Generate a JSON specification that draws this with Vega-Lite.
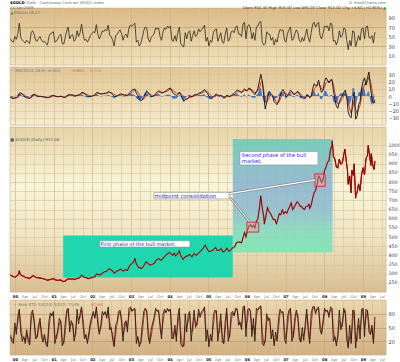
{
"$schema":"https://vega.github.io/schema/vega-lite/v6.json",
"padding":{"left":7,"top":1,"right":0,"bottom":0},
"background":"white",
"spacing":0,
"config":{"font":"DejaVu Sans","view":{"stroke":"#c4ad84","strokeWidth":0.6},"axis":{"titleFontSize":0,"labelOverlap":false}},
"datasets":{
"osc":[
{"d":"1999-11-19","r":45,"k":30,"s":35,"m":-2,"g":-1,"h":-1},
{"d":"1999-12-03","r":40,"k":20,"s":25,"m":-3,"g":-2,"h":-1},
{"d":"1999-12-17","r":38,"k":15,"s":20,"m":-3.5,"g":-2.8,"h":-0.7},
{"d":"1999-12-31","r":50,"k":60,"s":45,"m":-2.5,"g":-2.9,"h":0.4},
{"d":"2000-01-14","r":44,"k":35,"s":45,"m":-2.2,"g":-2.6,"h":0.4},
{"d":"2000-01-28","r":55,"k":75,"s":60,"m":-1,"g":-2,"h":1},
{"d":"2000-02-11","r":78,"k":90,"s":85,"m":4,"g":0,"h":4},
{"d":"2000-02-25","r":48,"k":40,"s":55,"m":4.5,"g":2.5,"h":2},
{"d":"2000-03-10","r":42,"k":20,"s":30,"m":2.5,"g":3,"h":-0.5},
{"d":"2000-03-24","r":40,"k":30,"s":28,"m":0.5,"g":2,"h":-1.5},
{"d":"2000-04-07","r":36,"k":15,"s":22,"m":-1.5,"g":0.5,"h":-2},
{"d":"2000-04-21","r":42,"k":45,"s":35,"m":-2.5,"g":-1,"h":-1.5},
{"d":"2000-05-05","r":38,"k":20,"s":28,"m":-3,"g":-2,"h":-1},
{"d":"2000-05-19","r":35,"k":12,"s":18,"m":-3.2,"g":-2.8,"h":-0.4},
{"d":"2000-06-02","r":58,"k":80,"s":65,"m":-1.5,"g":-2.5,"h":1},
{"d":"2000-06-16","r":62,"k":88,"s":82,"m":1.5,"g":-0.5,"h":2},
{"d":"2000-06-30","r":55,"k":60,"s":70,"m":2.5,"g":1,"h":1.5},
{"d":"2000-07-14","r":42,"k":25,"s":35,"m":1.2,"g":1.5,"h":-0.3},
{"d":"2000-07-28","r":40,"k":30,"s":28,"m":-0.2,"g":0.8,"h":-1},
{"d":"2000-08-11","r":46,"k":55,"s":45,"m":-0.8,"g":0,"h":-0.8},
{"d":"2000-08-25","r":50,"k":70,"s":62,"m":-0.5,"g":-0.4,"h":-0.1},
{"d":"2000-09-08","r":42,"k":30,"s":40,"m":-0.8,"g":-0.6,"h":-0.2},
{"d":"2000-09-22","r":38,"k":18,"s":25,"m":-1.2,"g":-0.9,"h":-0.3},
{"d":"2000-10-06","r":40,"k":35,"s":28,"m":-1.6,"g":-1.2,"h":-0.4},
{"d":"2000-10-20","r":35,"k":12,"s":20,"m":-2,"g":-1.6,"h":-0.4},
{"d":"2000-11-03","r":32,"k":8,"s":12,"m":-2.4,"g":-2,"h":-0.4},
{"d":"2000-11-17","r":50,"k":65,"s":45,"m":-1.8,"g":-2.1,"h":0.3},
{"d":"2000-12-01","r":56,"k":82,"s":75,"m":-0.8,"g":-1.6,"h":0.8},
{"d":"2000-12-15","r":58,"k":75,"s":80,"m":0.3,"g":-0.8,"h":1.1},
{"d":"2000-12-29","r":60,"k":85,"s":78,"m":0.9,"g":0,"h":0.9},
{"d":"2001-01-12","r":38,"k":15,"s":35,"m":0,"g":0.2,"h":-0.2},
{"d":"2001-01-26","r":40,"k":30,"s":25,"m":-0.8,"g":-0.3,"h":-0.5},
{"d":"2001-02-09","r":45,"k":45,"s":38,"m":-1.1,"g":-0.7,"h":-0.4},
{"d":"2001-02-23","r":52,"k":70,"s":58,"m":-0.7,"g":-0.8,"h":0.1},
{"d":"2001-03-09","r":55,"k":62,"s":65,"m":-0.3,"g":-0.6,"h":0.3},
{"d":"2001-03-23","r":35,"k":10,"s":25,"m":-1.2,"g":-0.8,"h":-0.4},
{"d":"2001-04-06","r":34,"k":18,"s":15,"m":-2,"g":-1.3,"h":-0.7},
{"d":"2001-04-20","r":48,"k":60,"s":40,"m":-1.7,"g":-1.6,"h":-0.1},
{"d":"2001-05-04","r":62,"k":88,"s":78,"m":-0.2,"g":-1,"h":0.8},
{"d":"2001-05-18","r":70,"k":92,"s":90,"m":2,"g":0.3,"h":1.7},
{"d":"2001-06-01","r":45,"k":40,"s":55,"m":1.8,"g":1.2,"h":0.6},
{"d":"2001-06-15","r":52,"k":65,"s":55,"m":1.5,"g":1.4,"h":0.1},
{"d":"2001-06-29","r":54,"k":55,"s":60,"m":1.2,"g":1.4,"h":-0.2},
{"d":"2001-07-13","r":40,"k":20,"s":30,"m":0.4,"g":1,"h":-0.6},
{"d":"2001-07-27","r":44,"k":40,"s":32,"m":-0.2,"g":0.5,"h":-0.7},
{"d":"2001-08-10","r":62,"k":90,"s":75,"m":1.2,"g":0.6,"h":0.6},
{"d":"2001-08-24","r":50,"k":58,"s":68,"m":1.5,"g":1,"h":0.5},
{"d":"2001-09-07","r":58,"k":80,"s":70,"m":2,"g":1.5,"h":0.5},
{"d":"2001-09-21","r":76,"k":95,"s":92,"m":5,"g":2.5,"h":2.5},
{"d":"2001-10-05","r":55,"k":55,"s":70,"m":5,"g":3.8,"h":1.2},
{"d":"2001-10-19","r":42,"k":25,"s":35,"m":3,"g":3.8,"h":-0.8},
{"d":"2001-11-02","r":44,"k":35,"s":28,"m":1.5,"g":3,"h":-1.5},
{"d":"2001-11-16","r":38,"k":15,"s":22,"m":0,"g":2,"h":-2},
{"d":"2001-11-30","r":45,"k":40,"s":30,"m":-0.8,"g":1,"h":-1.8},
{"d":"2001-12-14","r":52,"k":62,"s":52,"m":-0.8,"g":0.3,"h":-1.1},
{"d":"2001-12-28","r":56,"k":75,"s":68,"m":-0.2,"g":0,"h":-0.2},
{"d":"2002-01-11","r":60,"k":85,"s":80,"m":0.8,"g":0.2,"h":0.6},
{"d":"2002-01-25","r":58,"k":70,"s":75,"m":1.4,"g":0.7,"h":0.7},
{"d":"2002-02-08","r":75,"k":95,"s":90,"m":4.5,"g":2,"h":2.5},
{"d":"2002-02-22","r":55,"k":55,"s":70,"m":5,"g":3.3,"h":1.7},
{"d":"2002-03-08","r":45,"k":35,"s":40,"m":3.5,"g":3.6,"h":-0.1},
{"d":"2002-03-22","r":52,"k":55,"s":48,"m":2.6,"g":3.3,"h":-0.7},
{"d":"2002-04-05","r":62,"k":85,"s":72,"m":3,"g":3.1,"h":-0.1},
{"d":"2002-04-19","r":60,"k":78,"s":80,"m":3.4,"g":3.2,"h":0.2},
{"d":"2002-05-03","r":65,"k":85,"s":82,"m":4,"g":3.4,"h":0.6},
{"d":"2002-05-17","r":62,"k":70,"s":75,"m":4.2,"g":3.7,"h":0.5},
{"d":"2002-05-31","r":74,"k":95,"s":88,"m":6,"g":4.3,"h":1.7},
{"d":"2002-06-14","r":52,"k":45,"s":62,"m":5.5,"g":4.8,"h":0.7},
{"d":"2002-06-28","r":50,"k":50,"s":45,"m":4,"g":4.8,"h":-0.8},
{"d":"2002-07-12","r":42,"k":25,"s":35,"m":2.2,"g":4,"h":-1.8},
{"d":"2002-07-26","r":30,"k":8,"s":12,"m":-0.8,"g":2.5,"h":-3.3},
{"d":"2002-08-09","r":52,"k":55,"s":35,"m":-0.5,"g":1.2,"h":-1.7},
{"d":"2002-08-23","r":54,"k":62,"s":58,"m":0,"g":0.6,"h":-0.6},
{"d":"2002-09-06","r":60,"k":85,"s":75,"m":1.5,"g":0.8,"h":0.7},
{"d":"2002-09-20","r":64,"k":88,"s":85,"m":2.6,"g":1.4,"h":1.2},
{"d":"2002-10-04","r":56,"k":60,"s":72,"m":3,"g":2,"h":1},
{"d":"2002-10-18","r":42,"k":20,"s":35,"m":1.4,"g":2,"h":-0.6},
{"d":"2002-11-01","r":52,"k":60,"s":45,"m":1,"g":1.6,"h":-0.6},
{"d":"2002-11-15","r":55,"k":65,"s":62,"m":1.2,"g":1.4,"h":-0.2},
{"d":"2002-11-29","r":48,"k":40,"s":50,"m":0.8,"g":1.2,"h":-0.4},
{"d":"2002-12-13","r":68,"k":92,"s":75,"m":2.8,"g":1.6,"h":1.2},
{"d":"2002-12-27","r":74,"k":95,"s":92,"m":6,"g":3.2,"h":2.8},
{"d":"2003-01-10","r":72,"k":85,"s":88,"m":8,"g":5,"h":3},
{"d":"2003-01-24","r":75,"k":90,"s":88,"m":9,"g":7,"h":2},
{"d":"2003-02-07","r":78,"k":92,"s":90,"m":9.5,"g":8.3,"h":1.2},
{"d":"2003-02-21","r":38,"k":15,"s":35,"m":4,"g":7.5,"h":-3.5},
{"d":"2003-03-07","r":42,"k":30,"s":25,"m":1,"g":5.5,"h":-4.5},
{"d":"2003-03-21","r":30,"k":8,"s":15,"m":-4,"g":2.5,"h":-6.5},
{"d":"2003-04-04","r":35,"k":20,"s":15,"m":-6.5,"g":-1,"h":-5.5},
{"d":"2003-04-18","r":48,"k":55,"s":38,"m":-5.5,"g":-3.5,"h":-2},
{"d":"2003-05-02","r":62,"k":85,"s":70,"m":-2,"g":-3.8,"h":1.8},
{"d":"2003-05-16","r":70,"k":92,"s":90,"m":3,"g":-2,"h":5},
{"d":"2003-05-30","r":68,"k":85,"s":88,"m":7,"g":1.5,"h":5.5},
{"d":"2003-06-13","r":45,"k":30,"s":50,"m":5,"g":3.5,"h":1.5},
{"d":"2003-06-27","r":38,"k":15,"s":20,"m":1.5,"g":3,"h":-1.5},
{"d":"2003-07-11","r":48,"k":45,"s":30,"m":-0.5,"g":1.5,"h":-2},
{"d":"2003-07-25","r":52,"k":60,"s":50,"m":-0.5,"g":0.5,"h":-1},
{"d":"2003-08-08","r":56,"k":72,"s":65,"m":0.5,"g":0.2,"h":0.3},
{"d":"2003-08-22","r":68,"k":92,"s":85,"m":3.5,"g":1.2,"h":2.3},
{"d":"2003-09-05","r":66,"k":85,"s":88,"m":5.5,"g":2.8,"h":2.7},
{"d":"2003-09-19","r":68,"k":88,"s":85,"m":7,"g":4.5,"h":2.5},
{"d":"2003-10-03","r":50,"k":50,"s":62,"m":6.5,"g":5.5,"h":1},
{"d":"2003-10-17","r":42,"k":25,"s":35,"m":4,"g":5.2,"h":-1.2},
{"d":"2003-10-31","r":60,"k":80,"s":60,"m":4.5,"g":4.8,"h":-0.3},
{"d":"2003-11-14","r":68,"k":90,"s":85,"m":6,"g":5.2,"h":0.8},
{"d":"2003-11-28","r":65,"k":82,"s":85,"m":7,"g":5.8,"h":1.2},
{"d":"2003-12-12","r":72,"k":92,"s":88,"m":9,"g":7,"h":2},
{"d":"2003-12-26","r":68,"k":85,"s":88,"m":10,"g":8.2,"h":1.8},
{"d":"2004-01-09","r":72,"k":90,"s":88,"m":11,"g":9.5,"h":1.5},
{"d":"2004-01-23","r":42,"k":25,"s":45,"m":7,"g":9,"h":-2},
{"d":"2004-02-06","r":40,"k":30,"s":25,"m":3.5,"g":7.5,"h":-4},
{"d":"2004-02-20","r":52,"k":55,"s":45,"m":2.5,"g":5.8,"h":-3.3},
{"d":"2004-03-05","r":40,"k":20,"s":30,"m":0.5,"g":4,"h":-3.5},
{"d":"2004-03-19","r":58,"k":75,"s":55,"m":2,"g":3,"h":-1},
{"d":"2004-04-02","r":70,"k":92,"s":82,"m":5.5,"g":3.5,"h":2},
{"d":"2004-04-16","r":35,"k":15,"s":40,"m":2,"g":3.5,"h":-1.5},
{"d":"2004-04-30","r":30,"k":8,"s":12,"m":-3,"g":1.8,"h":-4.8},
{"d":"2004-05-14","r":28,"k":10,"s":8,"m":-7.5,"g":-1,"h":-6.5},
{"d":"2004-05-28","r":58,"k":80,"s":50,"m":-5,"g":-3,"h":-2},
{"d":"2004-06-11","r":45,"k":40,"s":55,"m":-4.5,"g":-3.8,"h":-0.7},
{"d":"2004-06-25","r":58,"k":78,"s":62,"m":-2.5,"g":-3.5,"h":1},
{"d":"2004-07-09","r":62,"k":85,"s":80,"m":0,"g":-2.2,"h":2.2},
{"d":"2004-07-23","r":40,"k":20,"s":40,"m":-1,"g":-1.5,"h":0.5},
{"d":"2004-08-06","r":52,"k":55,"s":42,"m":-0.5,"g":-1,"h":0.5},
{"d":"2004-08-20","r":62,"k":88,"s":72,"m":1.8,"g":0,"h":1.8},
{"d":"2004-09-03","r":50,"k":50,"s":62,"m":2,"g":1,"h":1},
{"d":"2004-09-17","r":54,"k":62,"s":55,"m":2.2,"g":1.6,"h":0.6},
{"d":"2004-10-01","r":66,"k":90,"s":80,"m":3.8,"g":2.4,"h":1.4},
{"d":"2004-10-15","r":60,"k":72,"s":78,"m":4.5,"g":3.2,"h":1.3},
{"d":"2004-10-29","r":64,"k":85,"s":80,"m":5.5,"g":4,"h":1.5},
{"d":"2004-11-12","r":68,"k":88,"s":85,"m":7,"g":5,"h":2},
{"d":"2004-11-26","r":74,"k":95,"s":92,"m":9,"g":6.5,"h":2.5},
{"d":"2004-12-10","r":40,"k":20,"s":45,"m":6,"g":7,"h":-1},
{"d":"2004-12-24","r":48,"k":45,"s":35,"m":4,"g":6,"h":-2},
{"d":"2005-01-07","r":30,"k":8,"s":20,"m":-0.5,"g":3.8,"h":-4.3},
{"d":"2005-01-21","r":42,"k":35,"s":25,"m":-2.5,"g":1.5,"h":-4},
{"d":"2005-02-04","r":38,"k":20,"s":28,"m":-3.5,"g":-0.5,"h":-3},
{"d":"2005-02-18","r":58,"k":78,"s":55,"m":-1.5,"g":-1.2,"h":-0.3},
{"d":"2005-03-04","r":64,"k":88,"s":80,"m":1,"g":-0.8,"h":1.8},
{"d":"2005-03-18","r":66,"k":85,"s":88,"m":3,"g":0.5,"h":2.5},
{"d":"2005-04-01","r":40,"k":20,"s":40,"m":0.8,"g":1.2,"h":-0.4},
{"d":"2005-04-15","r":48,"k":50,"s":38,"m":0,"g":1,"h":-1},
{"d":"2005-04-29","r":58,"k":80,"s":65,"m":0.8,"g":0.8,"h":0},
{"d":"2005-05-13","r":38,"k":18,"s":35,"m":-1.2,"g":0.3,"h":-1.5},
{"d":"2005-05-27","r":36,"k":15,"s":15,"m":-2.8,"g":-0.8,"h":-2},
{"d":"2005-06-10","r":55,"k":65,"s":45,"m":-2.2,"g":-1.5,"h":-0.7},
{"d":"2005-06-24","r":68,"k":92,"s":82,"m":1,"g":-0.8,"h":1.8},
{"d":"2005-07-08","r":40,"k":20,"s":40,"m":0,"g":-0.3,"h":0.3},
{"d":"2005-07-22","r":44,"k":35,"s":28,"m":-1,"g":-0.4,"h":-0.6},
{"d":"2005-08-05","r":60,"k":82,"s":62,"m":0.8,"g":0,"h":0.8},
{"d":"2005-08-19","r":62,"k":85,"s":82,"m":2.5,"g":0.8,"h":1.7},
{"d":"2005-09-02","r":58,"k":75,"s":78,"m":3.5,"g":1.8,"h":1.7},
{"d":"2005-09-16","r":70,"k":92,"s":88,"m":6,"g":3.2,"h":2.8},
{"d":"2005-09-30","r":72,"k":90,"s":90,"m":8,"g":5,"h":3},
{"d":"2005-10-14","r":55,"k":55,"s":70,"m":7.5,"g":6.2,"h":1.3},
{"d":"2005-10-28","r":55,"k":62,"s":55,"m":6,"g":6.5,"h":-0.5},
{"d":"2005-11-11","r":50,"k":45,"s":52,"m":4.5,"g":6,"h":-1.5},
{"d":"2005-11-25","r":76,"k":95,"s":85,"m":7,"g":6,"h":1},
{"d":"2005-12-09","r":80,"k":97,"s":95,"m":10,"g":7.5,"h":2.5},
{"d":"2005-12-23","r":45,"k":30,"s":50,"m":7,"g":8,"h":-1},
{"d":"2006-01-06","r":72,"k":88,"s":65,"m":8,"g":7.8,"h":0.2},
{"d":"2006-01-20","r":75,"k":92,"s":90,"m":11,"g":8.8,"h":2.2},
{"d":"2006-02-03","r":68,"k":85,"s":88,"m":10,"g":9.5,"h":0.5},
{"d":"2006-02-17","r":45,"k":30,"s":45,"m":6,"g":8.5,"h":-2.5},
{"d":"2006-03-03","r":58,"k":70,"s":55,"m":5,"g":7,"h":-2},
{"d":"2006-03-17","r":42,"k":20,"s":35,"m":2,"g":5,"h":-3},
{"d":"2006-03-31","r":70,"k":92,"s":75,"m":6,"g":5,"h":1},
{"d":"2006-04-14","r":72,"k":88,"s":88,"m":10,"g":6.5,"h":3.5},
{"d":"2006-04-28","r":80,"k":95,"s":92,"m":20,"g":11,"h":9},
{"d":"2006-05-12","r":82,"k":97,"s":96,"m":30,"g":18,"h":12},
{"d":"2006-05-26","r":38,"k":15,"s":40,"m":20,"g":21,"h":-1},
{"d":"2006-06-09","r":32,"k":10,"s":15,"m":0,"g":8,"h":-8},
{"d":"2006-06-23","r":35,"k":25,"s":18,"m":-18,"g":-8,"h":-10},
{"d":"2006-07-07","r":60,"k":80,"s":60,"m":-8,"g":-9,"h":1},
{"d":"2006-07-21","r":55,"k":65,"s":72,"m":2,"g":-5,"h":7},
{"d":"2006-08-04","r":55,"k":70,"s":65,"m":6,"g":0,"h":6},
{"d":"2006-08-18","r":42,"k":25,"s":38,"m":2,"g":2,"h":0},
{"d":"2006-09-01","r":48,"k":45,"s":35,"m":0,"g":1.5,"h":-1.5},
{"d":"2006-09-15","r":32,"k":10,"s":20,"m":-8,"g":-3,"h":-5},
{"d":"2006-09-29","r":44,"k":40,"s":25,"m":-10,"g":-7,"h":-3},
{"d":"2006-10-13","r":38,"k":20,"s":28,"m":-12,"g":-9.5,"h":-2.5},
{"d":"2006-10-27","r":55,"k":70,"s":50,"m":-7,"g":-9,"h":2},
{"d":"2006-11-10","r":65,"k":90,"s":80,"m":0,"g":-5,"h":5},
{"d":"2006-11-24","r":62,"k":82,"s":85,"m":6,"g":0,"h":6},
{"d":"2006-12-08","r":64,"k":85,"s":82,"m":9,"g":4.5,"h":4.5},
{"d":"2006-12-22","r":42,"k":25,"s":45,"m":5,"g":5.5,"h":-0.5},
{"d":"2007-01-05","r":38,"k":15,"s":25,"m":-1,"g":3,"h":-4},
{"d":"2007-01-19","r":56,"k":72,"s":50,"m":0.5,"g":1.5,"h":-1},
{"d":"2007-02-02","r":64,"k":88,"s":80,"m":4,"g":2,"h":2},
{"d":"2007-02-16","r":70,"k":92,"s":90,"m":8,"g":4.5,"h":3.5},
{"d":"2007-03-02","r":42,"k":20,"s":45,"m":6,"g":5.5,"h":0.5},
{"d":"2007-03-16","r":44,"k":35,"s":28,"m":2,"g":4,"h":-2},
{"d":"2007-03-30","r":56,"k":72,"s":58,"m":2.5,"g":3,"h":-0.5},
{"d":"2007-04-13","r":64,"k":88,"s":82,"m":5,"g":3.5,"h":1.5},
{"d":"2007-04-27","r":58,"k":70,"s":78,"m":6.5,"g":4.8,"h":1.7},
{"d":"2007-05-11","r":42,"k":25,"s":40,"m":3,"g":4.5,"h":-1.5},
{"d":"2007-05-25","r":38,"k":18,"s":20,"m":-1,"g":2.5,"h":-3.5},
{"d":"2007-06-08","r":48,"k":50,"s":35,"m":-2,"g":0.5,"h":-2.5},
{"d":"2007-06-22","r":40,"k":22,"s":32,"m":-4,"g":-1.5,"h":-2.5},
{"d":"2007-07-06","r":52,"k":60,"s":45,"m":-3,"g":-2.5,"h":-0.5},
{"d":"2007-07-20","r":66,"k":90,"s":80,"m":1.5,"g":-1,"h":2.5},
{"d":"2007-08-03","r":48,"k":40,"s":60,"m":1,"g":0,"h":1},
{"d":"2007-08-17","r":38,"k":15,"s":25,"m":-2.5,"g":-0.5,"h":-2},
{"d":"2007-08-31","r":58,"k":80,"s":55,"m":-0.5,"g":-0.8,"h":0.3},
{"d":"2007-09-14","r":76,"k":95,"s":88,"m":10,"g":3,"h":7},
{"d":"2007-09-28","r":80,"k":96,"s":95,"m":17,"g":9,"h":8},
{"d":"2007-10-12","r":70,"k":80,"s":85,"m":14,"g":12,"h":2},
{"d":"2007-10-26","r":76,"k":92,"s":88,"m":15,"g":13.5,"h":1.5},
{"d":"2007-11-09","r":80,"k":95,"s":92,"m":22,"g":17,"h":5},
{"d":"2007-11-23","r":52,"k":45,"s":60,"m":12,"g":15,"h":-3},
{"d":"2007-12-07","r":45,"k":35,"s":38,"m":5,"g":10,"h":-5},
{"d":"2007-12-21","r":56,"k":65,"s":55,"m":8,"g":8.5,"h":-0.5},
{"d":"2008-01-04","r":72,"k":92,"s":80,"m":20,"g":12,"h":8},
{"d":"2008-01-18","r":70,"k":85,"s":88,"m":25,"g":18,"h":7},
{"d":"2008-02-01","r":72,"k":88,"s":85,"m":22,"g":20,"h":2},
{"d":"2008-02-15","r":62,"k":72,"s":78,"m":18,"g":19.5,"h":-1.5},
{"d":"2008-02-29","r":78,"k":95,"s":88,"m":22,"g":20.5,"h":1.5},
{"d":"2008-03-14","r":76,"k":92,"s":92,"m":23,"g":21.5,"h":1.5},
{"d":"2008-03-28","r":40,"k":20,"s":45,"m":8,"g":16,"h":-8},
{"d":"2008-04-11","r":42,"k":30,"s":28,"m":-5,"g":4,"h":-9},
{"d":"2008-04-25","r":32,"k":10,"s":18,"m":-14,"g":-4,"h":-10},
{"d":"2008-05-09","r":42,"k":35,"s":25,"m":-17,"g":-11,"h":-6},
{"d":"2008-05-23","r":62,"k":88,"s":65,"m":-8,"g":-10,"h":2},
{"d":"2008-06-06","r":48,"k":45,"s":60,"m":-3,"g":-7,"h":4},
{"d":"2008-06-20","r":52,"k":60,"s":52,"m":0,"g":-3.5,"h":3.5},
{"d":"2008-07-04","r":68,"k":92,"s":80,"m":5,"g":0,"h":5},
{"d":"2008-07-18","r":66,"k":80,"s":88,"m":8,"g":4,"h":4},
{"d":"2008-08-01","r":42,"k":25,"s":45,"m":-2,"g":2,"h":-4},
{"d":"2008-08-15","r":22,"k":5,"s":10,"m":-22,"g":-8,"h":-14},
{"d":"2008-08-29","r":42,"k":55,"s":30,"m":-28,"g":-18,"h":-10},
{"d":"2008-09-12","r":30,"k":15,"s":25,"m":-30,"g":-24,"h":-6},
{"d":"2008-09-26","r":62,"k":88,"s":60,"m":-5,"g":-16,"h":11},
{"d":"2008-10-10","r":60,"k":85,"s":88,"m":5,"g":-6,"h":11},
{"d":"2008-10-24","r":28,"k":5,"s":25,"m":-32,"g":-18,"h":-14},
{"d":"2008-11-07","r":40,"k":40,"s":20,"m":-28,"g":-24,"h":-4},
{"d":"2008-11-21","r":52,"k":70,"s":55,"m":-12,"g":-18,"h":6},
{"d":"2008-12-05","r":42,"k":25,"s":45,"m":-8,"g":-13,"h":5},
{"d":"2008-12-19","r":66,"k":90,"s":70,"m":10,"g":-2,"h":12},
{"d":"2009-01-02","r":68,"k":92,"s":90,"m":20,"g":8,"h":12},
{"d":"2009-01-16","r":45,"k":30,"s":50,"m":25,"g":16,"h":9},
{"d":"2009-01-30","r":70,"k":90,"s":70,"m":15,"g":16,"h":-1},
{"d":"2009-02-13","r":72,"k":85,"s":88,"m":25,"g":20,"h":5},
{"d":"2009-02-27","r":48,"k":40,"s":60,"m":33,"g":26,"h":7},
{"d":"2009-03-13","r":46,"k":35,"s":35,"m":12,"g":20,"h":-8},
{"d":"2009-03-27","r":52,"k":55,"s":48,"m":-3,"g":9,"h":-12},
{"d":"2009-04-10","r":36,"k":15,"s":22,"m":-10,"g":-2,"h":-8},
{"d":"2009-04-24","r":59.27,"k":73.49,"s":61.64,"m":-6,"g":-9.9,"h":3.3}
],
"px":[
{"d":"1999-11-19","p":293},{"d":"1999-12-03","p":288},{"d":"1999-12-17","p":283},{"d":"2000-01-07","p":282},{"d":"2000-01-21","p":289},{"d":"2000-02-04","p":296},{"d":"2000-02-11","p":316},{"d":"2000-02-18","p":300},{"d":"2000-03-03","p":290},{"d":"2000-03-17","p":287},{"d":"2000-04-07","p":281},{"d":"2000-04-21","p":278},{"d":"2000-05-05","p":277},{"d":"2000-05-19","p":273},{"d":"2000-06-09","p":285},{"d":"2000-06-23","p":289},{"d":"2000-07-14","p":280},{"d":"2000-07-28","p":278},{"d":"2000-08-18","p":277},{"d":"2000-09-08","p":275},{"d":"2000-09-22","p":272},{"d":"2000-10-13","p":270},{"d":"2000-10-27","p":264},{"d":"2000-11-17","p":266},{"d":"2000-12-08","p":270},{"d":"2000-12-29","p":273},
{"d":"2001-01-19","p":266},{"d":"2001-02-09","p":263},{"d":"2001-03-02","p":266},{"d":"2001-03-23","p":260},{"d":"2001-04-06","p":257},{"d":"2001-04-20","p":260},{"d":"2001-05-18","p":273},{"d":"2001-06-08","p":270},{"d":"2001-06-29","p":272},{"d":"2001-07-20","p":268},{"d":"2001-08-10","p":275},{"d":"2001-08-31","p":276},{"d":"2001-09-21","p":292},{"d":"2001-10-12","p":282},{"d":"2001-11-02","p":278},{"d":"2001-11-23","p":273},{"d":"2001-12-14","p":276},
{"d":"2002-01-04","p":280},{"d":"2002-01-25","p":283},{"d":"2002-02-08","p":298},{"d":"2002-02-22","p":296},{"d":"2002-03-15","p":292},{"d":"2002-04-05","p":302},{"d":"2002-04-26","p":310},{"d":"2002-05-17","p":313},{"d":"2002-06-07","p":327},{"d":"2002-06-21","p":323},{"d":"2002-07-12","p":315},{"d":"2002-07-26","p":303},{"d":"2002-08-16","p":312},{"d":"2002-09-06","p":318},{"d":"2002-09-27","p":324},{"d":"2002-10-18","p":314},{"d":"2002-11-08","p":321},{"d":"2002-11-29","p":318},{"d":"2002-12-20","p":344},
{"d":"2003-01-10","p":355},{"d":"2003-01-31","p":368},{"d":"2003-02-07","p":384},{"d":"2003-02-21","p":352},{"d":"2003-03-14","p":333},{"d":"2003-03-28","p":334},{"d":"2003-04-11","p":327},{"d":"2003-05-02","p":343},{"d":"2003-05-23","p":365},{"d":"2003-06-13","p":356},{"d":"2003-06-27","p":347},{"d":"2003-07-18","p":350},{"d":"2003-08-08","p":355},{"d":"2003-08-29","p":375},{"d":"2003-09-19","p":382},{"d":"2003-10-10","p":373},{"d":"2003-10-31","p":384},{"d":"2003-11-21","p":397},{"d":"2003-12-12","p":409},{"d":"2003-12-31","p":416},
{"d":"2004-01-16","p":408},{"d":"2004-01-30","p":400},{"d":"2004-02-13","p":412},{"d":"2004-02-27","p":396},{"d":"2004-03-19","p":410},{"d":"2004-04-02","p":425},{"d":"2004-04-16","p":397},{"d":"2004-05-07","p":378},{"d":"2004-05-28","p":393},{"d":"2004-06-18","p":397},{"d":"2004-07-09","p":405},{"d":"2004-07-30","p":392},{"d":"2004-08-20","p":410},{"d":"2004-09-10","p":400},{"d":"2004-09-24","p":408},{"d":"2004-10-15","p":420},{"d":"2004-11-05","p":432},{"d":"2004-11-26","p":451},{"d":"2004-12-03","p":455},{"d":"2004-12-17","p":438},
{"d":"2005-01-07","p":420},{"d":"2005-01-28","p":424},{"d":"2005-02-18","p":430},{"d":"2005-03-11","p":443},{"d":"2005-03-25","p":427},{"d":"2005-04-15","p":428},{"d":"2005-04-29","p":436},{"d":"2005-05-20","p":418},{"d":"2005-06-10","p":424},{"d":"2005-06-24","p":440},{"d":"2005-07-15","p":422},{"d":"2005-07-29","p":428},{"d":"2005-08-19","p":441},{"d":"2005-09-09","p":448},{"d":"2005-09-23","p":469},{"d":"2005-10-14","p":472},{"d":"2005-10-28","p":472},{"d":"2005-11-11","p":469},{"d":"2005-11-25","p":495},{"d":"2005-12-09","p":525},{"d":"2005-12-23","p":500},
{"d":"2006-01-06","p":537},{"d":"2006-01-20","p":560},{"d":"2006-02-03","p":567},{"d":"2006-02-17","p":553},{"d":"2006-03-03","p":566},{"d":"2006-03-17","p":549},{"d":"2006-03-31","p":586},{"d":"2006-04-14","p":598},{"d":"2006-04-28","p":655},{"d":"2006-05-12","p":725},{"d":"2006-05-26","p":656},{"d":"2006-06-09","p":612},{"d":"2006-06-14","p":570},{"d":"2006-06-30","p":616},{"d":"2006-07-14","p":660},{"d":"2006-07-28","p":640},{"d":"2006-08-11","p":628},{"d":"2006-08-25","p":612},{"d":"2006-09-08","p":595},{"d":"2006-09-22","p":596},{"d":"2006-10-06","p":572},{"d":"2006-10-20","p":598},{"d":"2006-11-03","p":627},{"d":"2006-11-17","p":622},{"d":"2006-12-01","p":648},{"d":"2006-12-15","p":626},{"d":"2006-12-29","p":638},
{"d":"2007-01-12","p":630},{"d":"2007-01-26","p":650},{"d":"2007-02-09","p":666},{"d":"2007-02-23","p":686},{"d":"2007-03-09","p":650},{"d":"2007-03-23","p":663},{"d":"2007-04-06","p":678},{"d":"2007-04-20","p":692},{"d":"2007-05-04","p":684},{"d":"2007-05-18","p":668},{"d":"2007-06-01","p":667},{"d":"2007-06-15","p":655},{"d":"2007-06-29","p":650},{"d":"2007-07-13","p":666},{"d":"2007-07-27","p":668},{"d":"2007-08-10","p":679},{"d":"2007-08-17","p":656},{"d":"2007-08-31","p":673},{"d":"2007-09-14","p":712},{"d":"2007-09-28","p":743},{"d":"2007-10-12","p":755},{"d":"2007-10-26","p":786},{"d":"2007-11-09","p":833},{"d":"2007-11-23","p":822},{"d":"2007-12-07","p":798},{"d":"2007-12-21","p":812},
{"d":"2008-01-04","p":863},{"d":"2008-01-18","p":880},{"d":"2008-02-01","p":908},{"d":"2008-02-15","p":915},{"d":"2008-02-29","p":975},{"d":"2008-03-14","p":1001},{"d":"2008-03-17","p":1025},{"d":"2008-03-28","p":940},{"d":"2008-04-11","p":925},{"d":"2008-04-25","p":882},{"d":"2008-05-09","p":877},{"d":"2008-05-23","p":925},{"d":"2008-06-06","p":898},{"d":"2008-06-20","p":904},{"d":"2008-07-03","p":946},{"d":"2008-07-15","p":980},{"d":"2008-07-25","p":927},{"d":"2008-08-08","p":863},{"d":"2008-08-15","p":787},{"d":"2008-08-29","p":833},{"d":"2008-09-11","p":740},{"d":"2008-09-19","p":865},{"d":"2008-10-03","p":836},{"d":"2008-10-10","p":900},{"d":"2008-10-24","p":712},{"d":"2008-10-28","p":733},{"d":"2008-11-07","p":743},{"d":"2008-11-21","p":790},{"d":"2008-12-05","p":752},{"d":"2008-12-19","p":840},
{"d":"2009-01-02","p":878},{"d":"2009-01-16","p":840},{"d":"2009-01-30","p":928},{"d":"2009-02-13","p":945},{"d":"2009-02-20","p":1000},{"d":"2009-03-06","p":940},{"d":"2009-03-18","p":890},{"d":"2009-03-20","p":955},{"d":"2009-04-03","p":898},{"d":"2009-04-10","p":878},{"d":"2009-04-17","p":868},{"d":"2009-04-24","p":913}
]
},
"vconcat":[
{
"width":376,"height":57,
"view":{"fill":{"gradient":"linear","x1":0,"y1":0,"x2":0,"y2":1,"stops":[{"offset":0,"color":"#dbba86"},{"offset":1,"color":"#f1e2bb"}]}},
"layer":[
{"data":{"name":"osc"},"mark":{"type":"line","stroke":"#40382a","strokeWidth":0.9},
"encoding":{
"x":{"field":"d","type":"temporal","scale":{"domain":[{"year":1999,"month":11,"date":15},{"year":2009,"month":8,"date":7}]},
"axis":{"title":null,"labels":false,"ticks":false,"domain":false,"grid":true,"tickCount":{"interval":"month","step":3},"gridColor":{"condition":{"test":"month(datum.value)==0","value":"#c6ae84"},"value":"#d9c49c"},"gridWidth":0.6}},
"y":{"field":"r","type":"quantitative","scale":{"domain":[-4,106]},
"axis":{"title":null,"orient":"right","values":[10,30,50,70,90],"tickCount":30,"format":"d","ticks":false,"domain":false,"labelOverlap":false,"labelFontSize":5,"labelColor":"#444","labelPadding":2,"gridColor":{"condition":{"test":"datum.value==30||datum.value==70","value":"#b29670"},"value":"#d2bd96"},"gridWidth":0.6}}}},
{"data":{"values":[{}]},"mark":{"type":"text","align":"left","baseline":"middle","fontSize":3.8,"fontWeight":"bold","color":"#000"},
"encoding":{"x":{"datum":{"year":1999,"month":11,"date":15}},"y":{"datum":119.5},"text":{"value":"$GOLD"}}},
{"data":{"values":[{}]},"mark":{"type":"text","align":"left","baseline":"middle","fontSize":3.8,"color":"#666"},
"encoding":{"x":{"datum":{"year":2000,"month":4,"date":10}},"y":{"datum":119.5},"text":{"value":"(Gold - Continuous Contract (EOD)) Index"}}},
{"data":{"values":[{}]},"mark":{"type":"text","align":"left","baseline":"middle","fontSize":3.8,"color":"#666"},
"encoding":{"x":{"datum":{"year":1999,"month":11,"date":15}},"y":{"datum":109.9},"text":{"value":"24-Apr-2009"}}},
{"data":{"values":[{}]},"mark":{"type":"text","align":"right","baseline":"middle","fontSize":3.8,"color":"#666"},
"encoding":{"x":{"datum":{"year":2009,"month":8,"date":7}},"y":{"datum":119.5},"text":{"value":"© StockCharts.com"}}},
{"data":{"values":[{}]},"mark":{"type":"text","align":"right","baseline":"middle","fontSize":3.8,"color":"#333"},
"encoding":{"x":{"datum":{"year":2009,"month":6,"date":29}},"y":{"datum":109.9},"text":{"value":"Open 904.30 High 916.00 Low 895.00 Close 913.00 Chg +8.60 (+0.95%)"}}},
{"data":{"values":[{}]},"mark":{"type":"text","align":"right","baseline":"middle","fontSize":3.8,"color":"#2a9a2a"},
"encoding":{"x":{"datum":{"year":2009,"month":8,"date":7}},"y":{"datum":109.9},"text":{"value":"▲"}}},
{"data":{"values":[{}]},"mark":{"type":"text","align":"left","baseline":"middle","fontSize":3.6,"color":"#3a8a3a"},
"encoding":{"x":{"datum":{"year":1999,"month":11,"date":20}},"y":{"datum":100},"text":{"value":"▲"}}},
{"data":{"values":[{}]},"mark":{"type":"text","align":"left","baseline":"middle","fontSize":3.8,"color":"#666"},
"encoding":{"x":{"datum":{"year":1999,"month":12,"date":22}},"y":{"datum":100},"text":{"value":"RSI(14) 59.27"}}}
]},
{
"width":376,"height":58,
"view":{"fill":{"gradient":"linear","x1":0,"y1":0,"x2":0,"y2":1,"stops":[{"offset":0,"color":"#e2c694"},{"offset":1,"color":"#f6ecd0"}]}},
"layer":[
{"data":{"name":"osc"},"mark":{"type":"area","color":"#2f6fcc","opacity":0.9},
"encoding":{
"x":{"field":"d","type":"temporal","scale":{"domain":[{"year":1999,"month":11,"date":15},{"year":2009,"month":8,"date":7}]},
"axis":{"title":null,"labels":false,"ticks":false,"domain":false,"grid":true,"tickCount":{"interval":"month","step":3},"gridColor":{"condition":{"test":"month(datum.value)==0","value":"#c6ae84"},"value":"#d9c49c"},"gridWidth":0.6}},
"y":{"field":"h","type":"quantitative","scale":{"domain":[-35,39]},
"axis":{"title":null,"orient":"right","values":[-30,-20,-10,0,10,20,30],"tickCount":30,"format":"d","ticks":false,"domain":false,"labelOverlap":false,"labelFontSize":5,"labelColor":"#444","labelPadding":2,"gridColor":"#d6c29a","gridWidth":0.6}}}},
{"data":{"name":"osc"},"mark":{"type":"line","stroke":"#d02828","strokeWidth":0.9},
"encoding":{"x":{"field":"d","type":"temporal"},"y":{"field":"g","type":"quantitative"}}},
{"data":{"name":"osc"},"mark":{"type":"line","stroke":"#111","strokeWidth":0.9},
"encoding":{"x":{"field":"d","type":"temporal"},"y":{"field":"m","type":"quantitative"}}},
{"data":{"values":[{}]},"mark":{"type":"text","align":"left","baseline":"middle","fontSize":4,"color":"#777"},
"encoding":{"x":{"datum":{"year":1999,"month":11,"date":15}},"y":{"datum":35},"text":{"value":"— MACD(12,26,9) -6.003,"}}},
{"data":{"values":[{}]},"mark":{"type":"text","align":"left","baseline":"middle","fontSize":4,"color":"#e06060"},
"encoding":{"x":{"datum":{"year":2001,"month":6,"date":13}},"y":{"datum":35},"text":{"value":"-9.863"}}},
{"data":{"values":[{}]},"mark":{"type":"text","align":"left","baseline":"middle","fontSize":4,"color":"#999"},
"encoding":{"x":{"datum":{"year":2001,"month":11,"date":11}},"y":{"datum":35},"text":{"value":", 3.310"}}}
]},
{
"width":376,"height":165,
"view":{"fill":{"gradient":"linear","x1":0,"y1":0,"x2":0,"y2":1,"stops":[{"offset":0,"color":"#e8d4a8"},{"offset":0.35,"color":"#f8f5d8"},{"offset":0.65,"color":"#f1e6c4"},{"offset":1,"color":"#d8be92"}]}},
"layer":[
{"data":{"name":"px"},"mark":{"type":"line","stroke":"#cc1414","strokeWidth":1.1},
"encoding":{
"x":{"field":"d","type":"temporal","scale":{"domain":[{"year":1999,"month":11,"date":15},{"year":2009,"month":8,"date":7}]},
"axis":{"title":null,"ticks":false,"domain":false,"grid":true,"tickCount":{"interval":"month","step":3},"gridColor":{"condition":{"test":"month(datum.value)==0","value":"#c6ae84"},"value":"#d9c49c"},"gridWidth":0.6,
"labelExpr":"month(datum.value)==0 ? timeFormat(datum.value,'%y') : timeFormat(datum.value,'%b')","labelFontSize":3.8,"labelPadding":2,"labelFlush":false,"labelOverlap":false,"labelBound":false,
"labelFontWeight":{"condition":{"test":"month(datum.value)==0","value":"bold"},"value":"normal"},
"labelColor":{"condition":{"test":"month(datum.value)==0","value":"#111"},"value":"#777"}}},
"y":{"field":"p","type":"quantitative","scale":{"domain":[245,1049]},
"axis":{"title":null,"orient":"right","values":[250,300,350,400,450,500,550,600,650,700,750,800,850,900,950,1000],"tickCount":40,"format":"d","ticks":false,"domain":false,"labelOverlap":false,"labelFontSize":4.8,"labelColor":"#444","labelPadding":2,"gridColor":"#d6c29a","gridWidth":0.6}}}},
{"data":{"values":[{}]},"mark":{"type":"rect","color":"#1fd6ae","opacity":1},
"encoding":{"x":{"datum":{"year":2001,"month":4,"date":1}},"x2":{"datum":{"year":2005,"month":8,"date":20}},"y":{"datum":279},"y2":{"datum":508}}},
{"data":{"values":[{}]},"mark":{"type":"rect","opacity":0.88,"fill":{"gradient":"linear","x1":0,"y1":0,"x2":0,"y2":1,"stops":[{"offset":0,"color":"#66ceb8"},{"offset":0.2,"color":"#7cbfc6"},{"offset":0.4,"color":"#8ab4d0"},{"offset":0.62,"color":"#8fbcd0"},{"offset":0.82,"color":"#82dcc0"},{"offset":1,"color":"#78e8b2"}]}},
"encoding":{"x":{"datum":{"year":2005,"month":8,"date":20}},"x2":{"datum":{"year":2008,"month":3,"date":20}},"y":{"datum":415},"y2":{"datum":1034}}},
{"data":{"name":"px"},"mark":{"type":"line","stroke":"#cc1414","strokeWidth":1.1},
"encoding":{"x":{"field":"d","type":"temporal"},"y":{"field":"p","type":"quantitative"}}},
{"data":{"name":"px"},"mark":{"type":"line","stroke":"#200000","strokeWidth":0.35},
"encoding":{"x":{"field":"d","type":"temporal"},"y":{"field":"p","type":"quantitative"}}},
{"data":{"values":[{}]},"mark":{"type":"rect","fill":"#e89a9a","fillOpacity":0.4,"stroke":"#e02424","strokeWidth":0.9},
"encoding":{"x":{"datum":{"year":2006,"month":1,"date":1}},"x2":{"datum":{"year":2006,"month":4,"date":22}},"y":{"datum":527},"y2":{"datum":581}}},
{"data":{"values":[{}]},"mark":{"type":"rect","fill":"#e89a9a","fillOpacity":0.4,"stroke":"#e02424","strokeWidth":0.9},
"encoding":{"x":{"datum":{"year":2007,"month":10,"date":5}},"x2":{"datum":{"year":2008,"month":1,"date":10}},"y":{"datum":776},"y2":{"datum":844}}},
{"data":{"values":[{}]},"mark":{"type":"rule","stroke":"#808080","strokeWidth":2.6},
"encoding":{"x":{"datum":{"year":2005,"month":7,"date":15}},"x2":{"datum":{"year":2007,"month":10,"date":5}},"y":{"datum":737},"y2":{"datum":810}}},
{"data":{"values":[{}]},"mark":{"type":"rule","stroke":"#808080","strokeWidth":2.2},
"encoding":{"x":{"datum":{"year":2005,"month":7,"date":23}},"x2":{"datum":{"year":2006,"month":1,"date":20}},"y":{"datum":717},"y2":{"datum":586}}},
{"data":{"values":[{}]},"mark":{"type":"rule","stroke":"#ffffff","strokeWidth":1.3},
"encoding":{"x":{"datum":{"year":2005,"month":7,"date":15}},"x2":{"datum":{"year":2007,"month":10,"date":5}},"y":{"datum":737},"y2":{"datum":810}}},
{"data":{"values":[{}]},"mark":{"type":"rule","stroke":"#ffffff","strokeWidth":1},
"encoding":{"x":{"datum":{"year":2005,"month":7,"date":23}},"x2":{"datum":{"year":2006,"month":1,"date":20}},"y":{"datum":717},"y2":{"datum":586}}},
{"data":{"values":[{}]},"mark":{"type":"rect","fill":"#ffffff","stroke":"#909090","strokeWidth":0.6},
"encoding":{"x":{"datum":{"year":2002,"month":3,"date":13}},"x2":{"datum":{"year":2004,"month":7,"date":11}},"y":{"datum":445},"y2":{"datum":479}}},
{"data":{"values":[{}]},"mark":{"type":"rect","fill":"#ffffff","stroke":"#909090","strokeWidth":0.6},
"encoding":{"x":{"datum":{"year":2003,"month":8,"date":7}},"x2":{"datum":{"year":2005,"month":7,"date":15}},"y":{"datum":708},"y2":{"datum":742}}},
{"data":{"values":[{}]},"mark":{"type":"rect","fill":"#ffffff","stroke":"#909090","strokeWidth":0.6},
"encoding":{"x":{"datum":{"year":2005,"month":10,"date":27}},"x2":{"datum":{"year":2007,"month":11,"date":3}},"y":{"datum":893},"y2":{"datum":966}}},
{"data":{"values":[{}]},"mark":{"type":"text","align":"left","baseline":"middle","fontSize":5,"color":"#1e1ee0"},
"encoding":{"x":{"datum":{"year":2002,"month":3,"date":22}},"y":{"datum":462},"text":{"value":"First phase of the bull market."}}},
{"data":{"values":[{}]},"mark":{"type":"text","align":"left","baseline":"middle","fontSize":5.4,"color":"#1e1ee0"},
"encoding":{"x":{"datum":{"year":2003,"month":8,"date":14}},"y":{"datum":725},"text":{"value":"midpoint consolidation"}}},
{"data":{"values":[{}]},"mark":{"type":"text","align":"left","baseline":"middle","fontSize":5.2,"color":"#1e1ee0"},
"encoding":{"x":{"datum":{"year":2005,"month":11,"date":14}},"y":{"datum":946},"text":{"value":"Second phase of the bull"}}},
{"data":{"values":[{}]},"mark":{"type":"text","align":"left","baseline":"middle","fontSize":5.2,"color":"#1e1ee0"},
"encoding":{"x":{"datum":{"year":2005,"month":11,"date":14}},"y":{"datum":912},"text":{"value":"market."}}},
{"data":{"values":[{}]},"mark":{"type":"text","align":"left","baseline":"middle","fontSize":4,"color":"#555"},
"encoding":{"x":{"datum":{"year":1999,"month":11,"date":18}},"y":{"datum":1030},"text":{"value":"■ $GOLD (Daily) 913.00"}}}
]},
{
"width":376,"height":55,
"view":{"fill":{"gradient":"linear","x1":0,"y1":0,"x2":0,"y2":1,"stops":[{"offset":0,"color":"#ebd7ae"},{"offset":1,"color":"#d2b084"}]}},
"layer":[
{"data":{"name":"osc"},"mark":{"type":"line","stroke":"#b82020","strokeWidth":0.8},
"encoding":{
"x":{"field":"d","type":"temporal","scale":{"domain":[{"year":1999,"month":11,"date":15},{"year":2009,"month":8,"date":7}]},
"axis":{"title":null,"ticks":false,"domain":false,"grid":true,"tickCount":{"interval":"month","step":3},"gridColor":{"condition":{"test":"month(datum.value)==0","value":"#c0a67a"},"value":"#d4bc92"},"gridWidth":0.6,
"labelExpr":"month(datum.value)==0 ? timeFormat(datum.value,'%y') : timeFormat(datum.value,'%b')","labelFontSize":3.8,"labelPadding":2,"labelFlush":false,"labelOverlap":false,"labelBound":false,
"labelFontWeight":{"condition":{"test":"month(datum.value)==0","value":"bold"},"value":"normal"},
"labelColor":{"condition":{"test":"month(datum.value)==0","value":"#111"},"value":"#777"}}},
"y":{"field":"s","type":"quantitative","scale":{"domain":[-1,105]},
"axis":{"title":null,"orient":"right","values":[20,50,80],"tickCount":30,"format":"d","ticks":false,"domain":false,"labelOverlap":false,"labelFontSize":5,"labelColor":"#444","labelPadding":2,"gridColor":"#b29670","gridWidth":0.6}}}},
{"data":{"name":"osc"},"mark":{"type":"line","stroke":"#1a120a","strokeWidth":0.8},
"encoding":{"x":{"field":"d","type":"temporal"},"y":{"field":"k","type":"quantitative"}}},
{"data":{"values":[{}]},"mark":{"type":"text","align":"left","baseline":"middle","fontSize":4,"color":"#777"},
"encoding":{"x":{"datum":{"year":1999,"month":12,"date":10}},"y":{"datum":99},"text":{"value":"— Slow STO %K(14) %D(3) 73.49,"}}},
{"data":{"values":[{}]},"mark":{"type":"text","align":"left","baseline":"middle","fontSize":4,"color":"#e06060"},
"encoding":{"x":{"datum":{"year":2001,"month":12,"date":19}},"y":{"datum":99},"text":{"value":"61.64"}}}
]}
]
}
